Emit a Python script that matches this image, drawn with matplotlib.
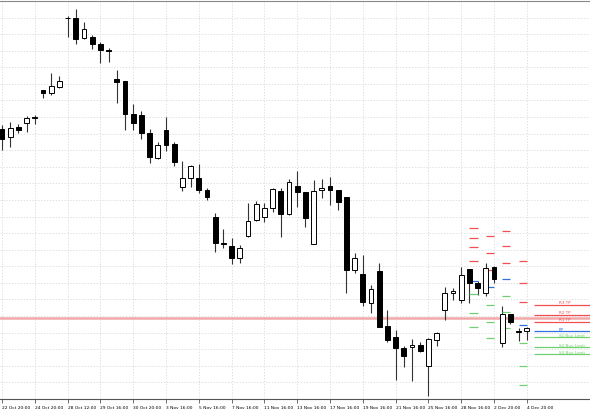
import numpy as np
import matplotlib
matplotlib.use("Agg")
import matplotlib.pyplot as plt

# candle data (price units, axis inverted: smaller = higher on screen)
opens  = [128, 136, 126, 122, 117, 89, 92, 86, 16, 16, 36, 35, 42, 49, 78, 80, 113, 114, 132, 157,
          129, 143, 187, 177, 177, 190, 217, 243, 246, 258, 236, 220, 217, 208, 191, 214, 185, 192,
          244, 190, 186, 190, 197, 270, 274, 303, 271, 326, 338, 349, 348, 346, 367, 341, 310, 293,
          300, 269, 283, 293, 267, 344, 314, 332, 332]
highs  = [124, 121, 123, 115, 114, 89, 72, 75, 14, 7, 20, 33, 40, 47, 69, 80, 103, 110, 128, 141,
          116, 141, 160, 164, 163, 188, 213, 229, 238, 245, 203, 201, 203, 188, 188, 178, 170, 192,
          179, 178, 176, 190, 197, 253, 255, 285, 263, 310, 331, 347, 340, 343, 339, 333, 287, 288,
          267, 269, 281, 263, 266, 306, 314, 328, 327]
lows   = [149, 146, 132, 131, 123, 97, 94, 87, 35, 42, 37, 48, 62, 61, 102, 129, 129, 138, 162, 158,
          150, 165, 191, 187, 193, 200, 252, 248, 264, 263, 237, 221, 222, 212, 237, 215, 207, 227,
          244, 198, 205, 210, 293, 273, 306, 313, 327, 343, 381, 368, 382, 353, 397, 347, 320, 300,
          303, 303, 295, 296, 283, 348, 324, 342, 341]
closes = [138, 127, 129, 117, 116.5, 92, 85, 80, 16.5, 37, 27, 43, 49, 49.5, 81, 113, 122, 132, 156, 144,
          144, 161, 177, 165, 190, 197, 243, 243.5, 258, 248, 221, 204, 208, 189, 214, 181, 192, 218,
          191, 188, 190, 202, 270, 258, 302, 289, 327, 341, 349, 357, 346, 352, 340, 334, 293, 291,
          275, 283, 288, 268, 279, 314, 322, 332.5, 329]

tick_labels = ["22 Oct 20:00", "24 Oct 20:00", "28 Oct 12:00", "29 Oct 16:00", "30 Oct 20:00",
               "3 Nov 16:00", "5 Nov 16:00", "7 Nov 16:00", "11 Nov 16:00", "13 Nov 16:00",
               "17 Nov 16:00", "19 Nov 16:00", "21 Nov 16:00", "25 Nov 16:00", "28 Nov 16:00",
               "2 Dec 20:00", "4 Dec 20:00"]

# daily pivot levels: bar index, R3, R2, R1, PP, S1, S2, S3
pivot_bars = [57, 59, 61, 63]
pivot_r = [[228, 238, 247, 261], [236, 253, 270], [231, 246, 263], [261, 283, 302]]
pivot_pp = [281, 287, 279, 325]
pivot_s = [[294, 313, 327], [305, 322, 339], [296, 312, 328], [344, 367, 386]]

# current levels shown at right
level_names = ["R3 TP", "R2 TP", "R1 TP", "PP", "S1 Buy Limit", "S2 Buy Limit", "S3 Buy Limit"]
level_values = [305, 315, 322, 332, 338, 348, 355]
level_colors = ["#f05050", "#f05050", "#f05050", "#3070e0", "#70d070", "#70d070", "#70d070"]
bid_line = 318

step = 8.2
fig = plt.figure(figsize=(5.9, 4.1), dpi=100)
ax = fig.add_axes([0, 10 / 410, 1, 398 / 410])
ax.set_xlim(-2 / step, 588 / step)
ax.set_ylim(400, 2)

x = np.arange(len(opens))
ax.axhline(bid_line, color="#f2a8a8", lw=1.8, zorder=1)
for i in x:
    ax.vlines(i, lows[i], highs[i], color="#333333", lw=0.8, zorder=2)
    top, bot = min(opens[i], closes[i]), max(opens[i], closes[i])
    fc = "white" if closes[i] < opens[i] else "black"
    h = max(bot - top, 0.6)
    ax.bar(i, h, bottom=top, width=0.6, color=fc, edgecolor="black", lw=0.7, zorder=3)

for b, rs, pp, ss in zip(pivot_bars, pivot_r, pivot_pp, pivot_s):
    ax.hlines(rs, b, b + 1, color="#f05050", lw=0.9, zorder=2)
    ax.hlines(pp, b, b + 1, color="#3070e0", lw=0.9, zorder=2)
    ax.hlines(ss, b, b + 1, color="#70d070", lw=0.9, zorder=2)

x0 = 532 / step
for name, v, c in zip(level_names, level_values, level_colors):
    ax.hlines(v, x0, 72, color=c, lw=0.9, zorder=2)
    ax.text(557 / step, v - 0.8, name, color=c, fontsize=3.0, va="bottom", ha="left")

ax.set_xticks(np.arange(0, 65, 4))
ax.set_xticklabels(tick_labels, fontsize=3.2, ha="left")
ax.set_yticks(np.arange(233 - 16.7 * 14, 400, 16.7))
ax.tick_params(axis="y", length=0, labelleft=False)
ax.tick_params(axis="x", length=3, width=0.6, pad=1, color="#555555")
ax.grid(True, color="#d8d8d8", ls=(0, (1.5, 2)), lw=0.6)
ax.set_axisbelow(True)
for s in ["left", "right"]:
    ax.spines[s].set_visible(False)
ax.spines["top"].set_color("#888888")
ax.spines["bottom"].set_color("#555555")
fig.savefig("out.png", dpi=100)
